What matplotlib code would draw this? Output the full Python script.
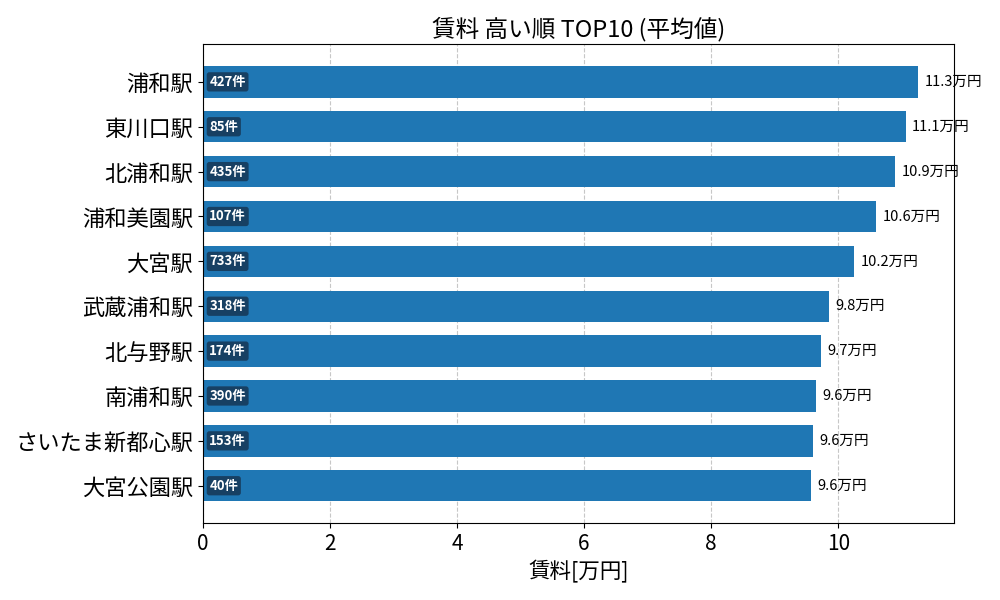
import matplotlib
matplotlib.use("Agg")
import matplotlib.pyplot as plt

plt.rcParams['font.family'] = ['Noto Sans CJK JP', 'DejaVu Sans']

stations = ["浦和駅", "東川口駅", "北浦和駅", "浦和美園駅", "大宮駅", "武蔵浦和駅", "北与野駅", "南浦和駅", "さいたま新都心駅", "大宮公園駅"]
rents = [11.26, 11.06, 10.90, 10.60, 10.25, 9.86, 9.73, 9.65, 9.61, 9.57]
rent_labels = ["11.3万円", "11.1万円", "10.9万円", "10.6万円", "10.2万円", "9.8万円", "9.7万円", "9.6万円", "9.6万円", "9.6万円"]
counts = [427, 85, 435, 107, 733, 318, 174, 390, 153, 40]

fig = plt.figure(figsize=(10, 6), dpi=100)
ax = fig.add_axes([0.203, 0.128, 0.751, 0.798])
y = list(range(len(stations)))
ax.barh(y, rents, height=0.7, color='#1f77b4', zorder=2)
ax.set_yticks(y)
ax.set_yticklabels(stations, fontsize=16)
ax.invert_yaxis()
ax.set_xlim(0, max(rents) * 1.05)
ax.tick_params(axis='x', labelsize=15)
ax.grid(axis='x', linestyle='--', alpha=0.7, zorder=0)
ax.set_axisbelow(True)
for i, (v, lab, c) in enumerate(zip(rents, rent_labels, counts)):
    ax.text(v + 0.1, i, lab, va='center', ha='left', fontsize=10.5)
    ax.text(0.1, i, f"{c}件", va='center', ha='left', fontsize=9.5, color='white', fontweight='bold',
            bbox=dict(boxstyle='round,pad=0.2', facecolor='#173a5a', edgecolor='none', alpha=0.9))
ax.set_xlabel("賃料[万円]", fontsize=15.5)
ax.set_title("賃料 高い順 TOP10 (平均値)", fontsize=17)
fig.savefig("out.png", dpi=100)
